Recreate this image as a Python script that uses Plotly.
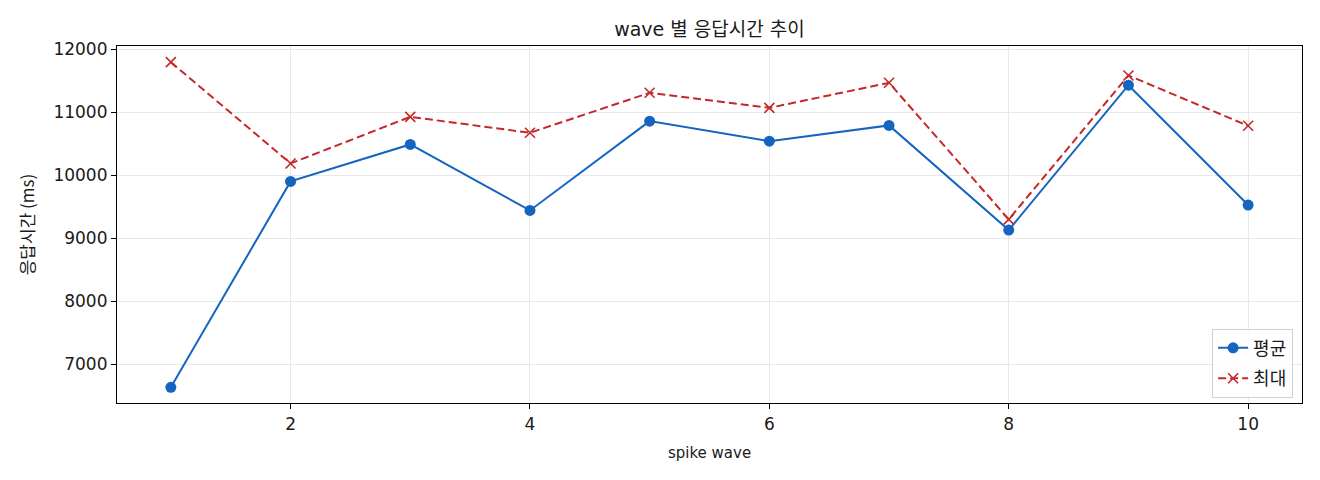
import plotly.graph_objects as go

# spike wave 별 응답시간 (ms)
waves = [1, 2, 3, 4, 5, 6, 7, 8, 9, 10]
avg_ms = [6635, 9905, 10492, 9444, 10862, 10544, 10794, 9132, 11433, 9529]
max_ms = [11798, 10190, 10930, 10677, 11312, 11073, 11471, 9302, 11587, 10788]

FONT = "DejaVu Sans, Noto Sans CJK KR"
KFONT = "Noto Sans CJK KR"

fig = go.Figure()
fig.add_trace(
    go.Scatter(
        x=waves,
        y=avg_ms,
        mode='lines+markers',
        name='평균',
        legendgroup='avg',
        line=dict(color='#1565c0', width=2),
        marker=dict(symbol='circle', size=11, color='#1565c0')
    )
)
fig.add_trace(
    go.Scatter(
        x=waves,
        y=max_ms,
        mode='lines+markers',
        name='최대',
        legendgroup='max',
        line=dict(color='#c62828', width=2, dash='8px,4px'),
        marker=dict(symbol='x-thin', size=10, line=dict(color='#c62828', width=1.6), color='#c62828')
    )
)

axis_style = dict(
    showline=True,
    linecolor='black',
    linewidth=1.2,
    mirror=True,
    showgrid=True,
    gridcolor='#e8e8e8',
    gridwidth=1,
    zeroline=False,
    ticks='outside',
    ticklen=5,
    tickcolor='black',
    automargin=False,
    tickfont=dict(size=17, color='#1a1a1a', family=FONT),
)

# the page body has an 8px margin, so the figure is shrunk to fit the window
fig.update_layout(
    width=1312,
    height=472,
    paper_bgcolor='white',
    plot_bgcolor='white',
    font=dict(family=FONT, color='#1a1a1a'),
    title=dict(text='wave 별 응답시간 추이', x=0.5, xref='paper', xanchor='center', y=1, yanchor='top',
               pad=dict(t=15), font=dict(size=19, family=FONT, color='#1a1a1a')),
    xaxis=dict(axis_style, range=[0.55, 10.45], tickvals=[2, 4, 6, 8, 10],
               title=dict(text='spike wave', font=dict(size=15, family=FONT), standoff=14)),
    yaxis=dict(axis_style, range=[6386, 12055], tickvals=[7000, 8000, 9000, 10000, 11000, 12000],
               tickformat='d',
               title=dict(text='응답시간 (ms)', font=dict(size=17, family=KFONT), standoff=14)),
    legend=dict(
        x=0.9925, y=0.015, xanchor='right', yanchor='bottom',
        bgcolor='rgba(255,255,255,0.85)',
        bordercolor='#d0d0d0',
        borderwidth=1,
        traceorder='grouped',
        tracegroupgap=4,
        font=dict(size=18, family=KFONT),
    ),
    margin=go.layout.Margin(
        l=109,
        r=18,
        b=77,
        t=38,
        pad=0
    ),
    showlegend=True
)

fig.write_html("out.html")
